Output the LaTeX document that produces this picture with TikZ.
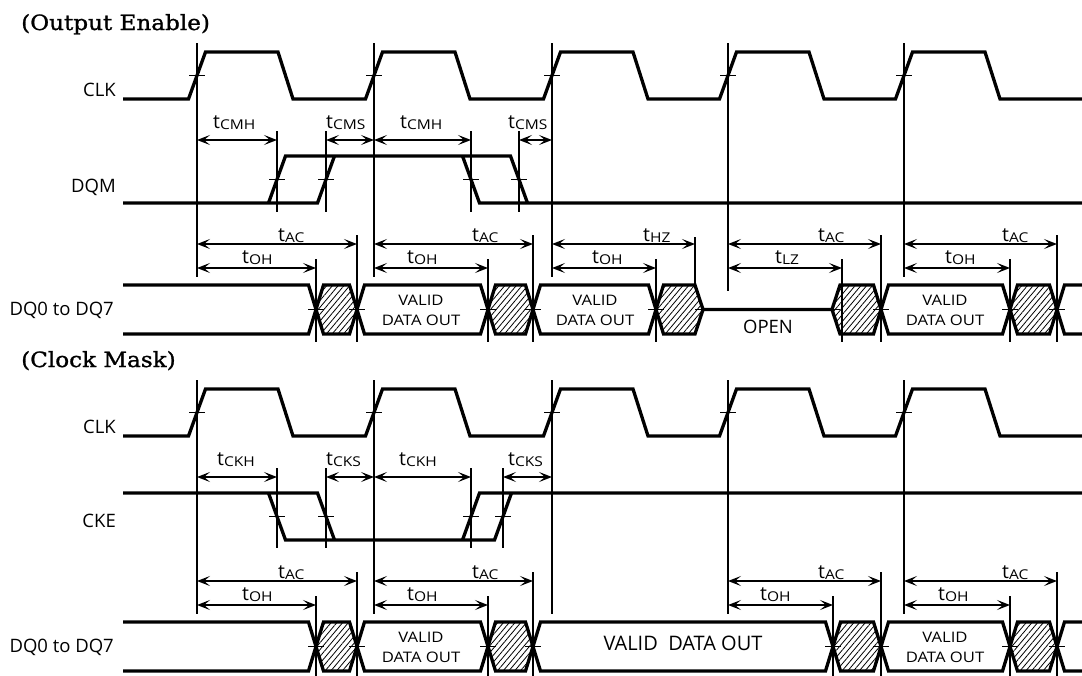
\documentclass[tikz,border=0pt]{standalone}
\usepackage{fontspec}
\setmainfont{Open Sans}
\newfontfamily\titlefont[FakeStretch=1.1,FakeBold=1.2]{DejaVu Serif}
\newfontfamily\widefont[FakeStretch=1.15]{Open Sans}
\usetikzlibrary{arrows.meta,patterns.meta}
\newcommand{\tsubtext}[1]{{\widefont\fontsize{13.5}{13.5}\selectfont\raisebox{-1.5pt}{#1}}}
\newcommand{\tlab}[4]{\node[tlabel] (#1) at (#2,#3) {t\tsubtext{#4}};}
\newcommand{\hexa}[4]{\path[hatch] (#1,309.5) -- (#1+#3,285) -- (#2-#4,285) -- (#2,309.5) -- (#2-#4,334) -- (#1+#3,334) -- cycle;}
\newcommand{\clkwave}{%
  \draw[wave] (123,99) -- (188.5,99) -- (205.5,52) -- (278,52) -- (293,99)
    -- (365.5,99) -- (382.5,52) -- (455,52) -- (470,99)
    -- (543.5,99) -- (560.5,52) -- (633,52) -- (648,99)
    -- (719.5,99) -- (736.5,52) -- (809,52) -- (824,99)
    -- (895.5,99) -- (912.5,52) -- (985,52) -- (1000,99) -- (1082,99);
  \foreach \v in {197,374,552,728,904} \draw[tickline] (\v-8,75.5) -- (\v+8,75.5);
}
\tikzset{
  wave/.style={line width=3.3pt},
  guide/.style={line width=1.3pt},
  tickline/.style={line width=1.3pt},
  dim/.style={line width=1.4pt, {Stealth[length=13pt,width=10pt,inset=6pt]}-{Stealth[length=13pt,width=10pt,inset=6pt]}},
  hatch/.style={pattern={Lines[angle=50,distance=4.4pt,line width=0.8pt]}},
  siglabel/.style={anchor=base east, inner sep=0pt, font=\fontsize{18.5}{18.5}\selectfont},
  tlabel/.style={anchor=base west, inner sep=0pt, font=\fontsize{19.5}{19.5}\selectfont},
  validtxt/.style={align=center, inner sep=0pt, font=\widefont\fontsize{14.5}{20}\selectfont},
  bigtxt/.style={inner sep=0pt, font=\fontsize{20}{20}\selectfont},
  titletxt/.style={anchor=base west, inner sep=0pt, font=\titlefont\fontsize{21}{21}\selectfont},
}
\begin{document}
\begin{tikzpicture}[x=1pt,y=-1pt]
\useasboundingbox (0,0) rectangle (1082,675);
\fill[white] (0,0) rectangle (1082,675);

% ================= Output Enable =================
\node[titletxt] (titleA) at (21,30) {(Output Enable)};
\node[siglabel] (clkA) at (116,96) {CLK};
\node[siglabel] (dqmA) at (116,192) {DQM};
\node[siglabel] (dqA) at (114,315) {DQ0 to DQ7};

\clkwave
\foreach \v/\e in {197/277,374/277,552/277,728/291,904/277} \draw[guide] (\v,43) -- (\v,\e);

% DQM
\draw[wave] (123,203) -- (317.5,203) -- (334.5,156);
\draw[wave] (268.5,203) -- (285.5,156) -- (510.5,156) -- (527.5,203);
\draw[wave] (462.5,156) -- (479.5,203) -- (1082,203);
\foreach \v in {277,326,471,519} {\draw[guide] (\v,131) -- (\v,212); \draw[tickline] (\v-8,179.5) -- (\v+8,179.5);}
\draw[dim] (197,140) -- (277,140);
\draw[dim] (326,140) -- (374,140);
\draw[dim] (374,140) -- (471,140);
\draw[dim] (519,140) -- (552,140);
\tlab{cmhA}{213}{128}{CMH}
\tlab{cmsA}{326}{128}{CMS}
\tlab{cmhB}{400}{128}{CMH}
\tlab{cmsB}{508}{128}{CMS}

% DQ timing
\foreach \v in {357,533,881,1057} \draw[guide] (\v,235) -- (\v,342);
\draw[guide] (695,237) -- (695,288);
\foreach \v in {316,488,656,842,1010} \draw[guide] (\v,259) -- (\v,342);
\draw[dim] (197,244) -- (357,244);
\draw[dim] (374,244) -- (533,244);
\draw[dim] (552,244) -- (695,244);
\draw[dim] (728,244) -- (881,244);
\draw[dim] (904,244) -- (1057,244);
\draw[dim] (197,268) -- (316,268);
\draw[dim] (374,268) -- (488,268);
\draw[dim] (552,268) -- (656,268);
\draw[dim] (728,268) -- (842,268);
\draw[dim] (904,268) -- (1010,268);
\tlab{acA}{278}{241}{AC}
\tlab{acB}{472}{241}{AC}
\tlab{hzA}{643}{241}{HZ}
\tlab{acC}{818}{241}{AC}
\tlab{acD}{1002}{241}{AC}
\tlab{ohA}{242}{263}{OH}
\tlab{ohB}{407}{263}{OH}
\tlab{ohC}{592}{263}{OH}
\tlab{lzA}{775}{263}{LZ}
\tlab{ohD}{945}{263}{OH}

% DQ row
\hexa{316}{357}{7.5}{7.5}
\hexa{488}{533}{7.5}{7.5}
\hexa{656}{703}{7.5}{8}
\hexa{832}{881}{8}{7.5}
\hexa{1010}{1057}{7.5}{7.5}
\draw[wave] (123,285) -- (308.5,285) -- (323.5,334) -- (349.5,334) -- (364.5,285) -- (480.5,285) -- (495.5,334) -- (525.5,334) -- (540.5,285) -- (648.5,285) -- (663.5,334) -- (695,334) -- (703,309.5) -- (832,309.5) -- (840,285) -- (873.5,285) -- (888.5,334) -- (1002.5,334) -- (1017.5,285) -- (1049.5,285) -- (1064.5,334) -- (1082,334);
\draw[wave] (123,334) -- (308.5,334) -- (323.5,285) -- (349.5,285) -- (364.5,334) -- (480.5,334) -- (495.5,285) -- (525.5,285) -- (540.5,334) -- (648.5,334) -- (663.5,285) -- (695,285) -- (703,309.5);
\draw[wave] (832,309.5) -- (840,334) -- (873.5,334) -- (888.5,285) -- (1002.5,285) -- (1017.5,334) -- (1049.5,334) -- (1064.5,285) -- (1082,285);
\foreach \v in {316,357,488,533,656,703,832,881,1010,1057} \draw[tickline] (\v-8,309.5) -- (\v+8,309.5);
\node[validtxt] (vA) at (421,310) {VALID\\DATA OUT};
\node[validtxt] (vB) at (595,310) {VALID\\DATA OUT};
\node[validtxt] (vC) at (945,310) {VALID\\DATA OUT};
\node[bigtxt, font=\fontsize{18.5}{18.5}\selectfont] (openA) at (768,326.5) {OPEN};

% ================= Clock Mask =================
\begin{scope}[yshift=-337pt]
\node[titletxt] (titleB) at (21,30) {(Clock Mask)};
\node[siglabel] (clkB) at (116,96) {CLK};
\node[siglabel] (ckeB) at (116,190) {CKE};
\node[siglabel] (dqB) at (114,315) {DQ0 to DQ7};

\clkwave
\foreach \v in {197,374,552,728,904} \draw[guide] (\v,43) -- (\v,277);

% CKE
\draw[wave] (123,156) -- (317.5,156) -- (334.5,203);
\draw[wave] (268.5,156) -- (285.5,203) -- (494.5,203) -- (511.5,156);
\draw[wave] (462.5,203) -- (479.5,156) -- (1082,156);
\foreach \v in {277,326,471,503} {\draw[guide] (\v,131) -- (\v,211); \draw[tickline] (\v-8,179.5) -- (\v+8,179.5);}
\draw[dim] (197,140) -- (277,140);
\draw[dim] (326,140) -- (374,140);
\draw[dim] (374,140) -- (471,140);
\draw[dim] (503,140) -- (552,140);
\tlab{ckhA}{217}{128}{CKH}
\tlab{cksA}{326}{128}{CKS}
\tlab{ckhB}{399}{128}{CKH}
\tlab{cksB}{508}{128}{CKS}

% DQ timing
\foreach \v in {357,533,881,1057} \draw[guide] (\v,235) -- (\v,342);
\foreach \v in {316,488,833,1010} \draw[guide] (\v,259) -- (\v,342);
\draw[dim] (197,244) -- (357,244);
\draw[dim] (374,244) -- (533,244);
\draw[dim] (728,244) -- (881,244);
\draw[dim] (904,244) -- (1057,244);
\draw[dim] (197,268) -- (316,268);
\draw[dim] (374,268) -- (488,268);
\draw[dim] (728,268) -- (833,268);
\draw[dim] (904,268) -- (1010,268);
\tlab{acE}{278}{241}{AC}
\tlab{acF}{472}{241}{AC}
\tlab{acG}{818}{241}{AC}
\tlab{acH}{1002}{241}{AC}
\tlab{ohE}{242}{263}{OH}
\tlab{ohF}{407}{263}{OH}
\tlab{ohG}{760}{263}{OH}
\tlab{ohH}{938}{263}{OH}

% DQ row
\hexa{316}{357}{7.5}{7.5}
\hexa{488}{533}{7.5}{7.5}
\hexa{833}{881}{7.5}{7.5}
\hexa{1010}{1057}{7.5}{7.5}
\draw[wave] (123,285) -- (308.5,285) -- (323.5,334) -- (349.5,334) -- (364.5,285) -- (480.5,285) -- (495.5,334) -- (525.5,334) -- (540.5,285) -- (825.5,285) -- (840.5,334) -- (873.5,334) -- (888.5,285) -- (1002.5,285) -- (1017.5,334) -- (1049.5,334) -- (1064.5,285) -- (1082,285);
\draw[wave] (123,334) -- (308.5,334) -- (323.5,285) -- (349.5,285) -- (364.5,334) -- (480.5,334) -- (495.5,285) -- (525.5,285) -- (540.5,334) -- (825.5,334) -- (840.5,285) -- (873.5,285) -- (888.5,334) -- (1002.5,334) -- (1017.5,285) -- (1049.5,285) -- (1064.5,334) -- (1082,334);
\foreach \v in {316,357,488,533,833,881,1010,1057} \draw[tickline] (\v-8,309.5) -- (\v+8,309.5);
\node[validtxt] (vD) at (421,310) {VALID\\DATA OUT};
\node[bigtxt] (vE) at (683,306) {VALID\ \ DATA OUT};
\node[validtxt] (vF) at (945,310) {VALID\\DATA OUT};
\end{scope}
\end{tikzpicture}
\end{document}
